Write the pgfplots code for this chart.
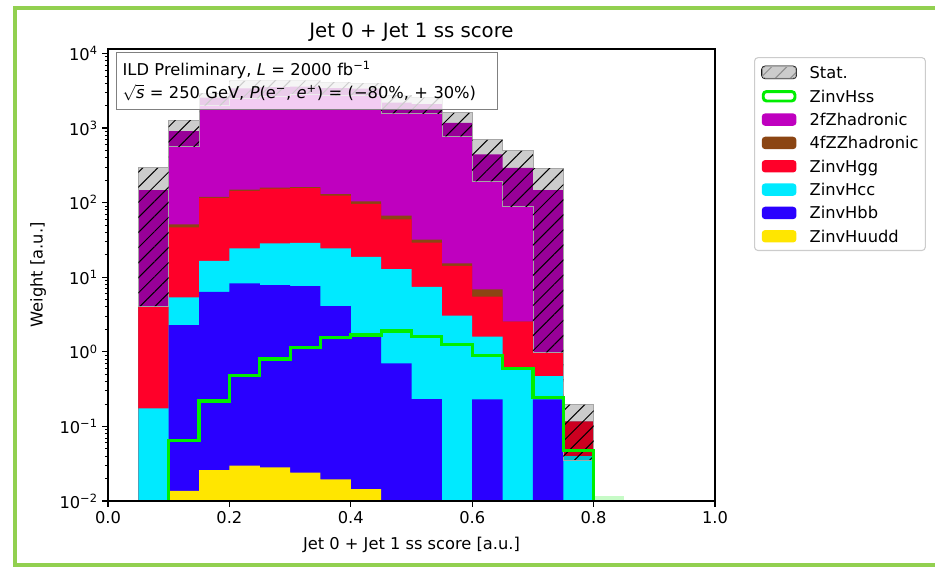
\documentclass[border=0pt]{standalone}
\usepackage{fontspec}
\setmainfont{DejaVu Sans}
\usepackage{pgfplots}
\usepackage{pgfplotstable}
\pgfplotsset{compat=1.18}
\usepgfplotslibrary{fillbetween}
\usetikzlibrary{patterns.meta}

\definecolor{cZf}{HTML}{BF00BF}
\definecolor{cZZ}{HTML}{8B4513}
\definecolor{cHgg}{HTML}{FF0029}
\definecolor{cHcc}{HTML}{00EAFF}
\definecolor{cHbb}{HTML}{2A00FF}
\definecolor{cHuudd}{HTML}{FFE600}
\definecolor{cHss}{HTML}{00EE00}
\definecolor{cFrame}{HTML}{92D050}

\newcommand\lbl{\fontsize{12.2}{14.6}\selectfont}
\newcommand\ttl{\fontsize{14.8}{17.8}\selectfont}

% per-bin weights (left bin edge, one column per sample)
\pgfplotstableread{
x     uudd    bb      cc      gg      zz      zf      hss
0.05  0       0       0.175   3.94    0       143.4   0
0.10  0.0137  2.273   3.091   41.28   4.53    860.4   0.0643
0.15  0.0260  6.366   10.25   99.66   3.70    2443    0.219
0.20  0.0297  8.253   16.12   120.0   5.40    3255    0.478
0.25  0.0283  7.833   20.61   126.0   4.90    3386    0.801
0.30  0.0240  7.597   21.39   127.9   5.00    3438    1.135
0.35  0.0195  4.090   20.29   100.1   5.90    3307    1.545
0.40  0.0144  1.580   17.24   77.84   7.40    3280    1.680
0.45  0       0.701   12.18   46.84   7.43    2130    1.900
0.50  0       0.233   7.225   21.72   2.84    2065    1.614
0.55  0       0       3.066   11.19   1.10    1163    1.245
0.60  0       0.231   1.363   3.917   1.393   437.2   0.886
0.65  0       0       0.601   1.931   0       291.2   0.601
0.70  0       0.231   0.243   0.511   0       146.5   0.2455
0.75  0       0       0.040   0.0756  0       0       0.0472
0.80  0       0       0       0       0       0       0
0.85  0       0       0       0       0       0       0
}\hist

% statistical band of the total (lower / upper edge)
\pgfplotstableread{
x     lo      hi
0.05  4.11    293.7
0.10  561     1280
0.15  2000    2945
0.20  2505    4305
0.25  2691    4399
0.30  2868    4332
0.35  2737    4137
0.40  2757    4011
0.45  1574    2770
0.50  1555    2579
0.55  774     1604
0.60  193     697
0.65  88.1    496.3
0.70  0.985   290.9
0.75  0.0355  0.1966
0.80  0.0355  0.1966
}\stat

\pgfplotsset{
  box legend/.style={legend image code/.code={\fill[##1, draw=none] (0pt,-4.65pt) rectangle (26pt,4.65pt);}},
}

\begin{document}
\begin{tikzpicture}[x=0.75pt,y=0.75pt]
\draw[cFrame, line width=3pt] (935,559) -- (15,559) -- (15,2) -- (935,2);

\begin{axis}[
  at={(81pt,49.5pt)}, anchor=south west,
  width=455.25pt, height=339pt, scale only axis,
  ymode=log, log origin=infty,
  xmin=0, xmax=1, ymin=0.01, ymax=1.15e4,
  axis on top,
  fill between/on layer=main,
  axis line style={line width=0.95pt, black},
  tick align=outside, tick pos=left,
  major tick length=4.2pt, minor tick length=2.4pt,
  major tick style={line width=0.95pt, black},
  minor tick style={line width=0.7pt, black},
  xtick={0,0.2,0.4,0.6,0.8,1},
  xticklabels={0.0,0.2,0.4,0.6,0.8,1.0},
  ytick={1e-2,1e-1,1,10,100,1000,10000},
  yticklabels={10\textsuperscript{−2},10\textsuperscript{−1},10\textsuperscript{0},10\textsuperscript{1},10\textsuperscript{2},10\textsuperscript{3},10\textsuperscript{4}},
  minor ytick={0.02,0.03,0.04,0.05,0.06,0.07,0.08,0.09,
    0.2,0.3,0.4,0.5,0.6,0.7,0.8,0.9,2,3,4,5,6,7,8,9,
    20,30,40,50,60,70,80,90,200,300,400,500,600,700,800,900,
    2000,3000,4000,5000,6000,7000,8000,9000},
  tick label style={font=\lbl},
  xlabel={Jet 0 + Jet 1 ss score [a.u.]},
  ylabel={Weight [a.u.]},
  every axis x label/.style={at={(axis description cs:0.5,-0.0973)}, anchor=center, font=\lbl},
  every axis y label/.style={at={(axis description cs:-0.1153,0.5)}, anchor=center, rotate=90, font=\lbl},
  title={Jet 0 + Jet 1 ss score},
  every axis title/.style={at={(axis description cs:0.5,1.0376)}, anchor=center, font=\ttl},
  legend style={at={(1.0643,0.982)}, anchor=north west,
    draw=black!20, line width=0.8pt, rounded corners=2.5pt, fill=white,
    inner xsep=5pt, inner ysep=6pt, font=\lbl, row sep=8.2pt,
    nodes={inner sep=0pt, text height=9pt, text depth=0.1pt},
    /tikz/every odd column/.append style={column sep=9.5pt}},
  legend cell align=left,
]

% stacked samples, drawn from the top of the stack downwards
\addplot[ybar interval, fill=cZf, draw=none, forget plot] table[x=x,
  y expr={max(\thisrow{uudd}+\thisrow{bb}+\thisrow{cc}+\thisrow{gg}+\thisrow{zz}+\thisrow{zf},1e-5)}] {\hist};
\addplot[ybar interval, fill=cZZ, draw=none, forget plot] table[x=x,
  y expr={max(\thisrow{uudd}+\thisrow{bb}+\thisrow{cc}+\thisrow{gg}+\thisrow{zz},1e-5)}] {\hist};
\addplot[ybar interval, fill=cHgg, draw=none, forget plot] table[x=x,
  y expr={max(\thisrow{uudd}+\thisrow{bb}+\thisrow{cc}+\thisrow{gg},1e-5)}] {\hist};
\addplot[ybar interval, fill=cHcc, draw=none, forget plot] table[x=x,
  y expr={max(\thisrow{uudd}+\thisrow{bb}+\thisrow{cc},1e-5)}] {\hist};
\addplot[ybar interval, fill=cHbb, draw=none, forget plot] table[x=x,
  y expr={max(\thisrow{uudd}+\thisrow{bb},1e-5)}] {\hist};
\addplot[ybar interval, fill=cHuudd, draw=none, forget plot] table[x=x,
  y expr={max(\thisrow{uudd},1e-5)}] {\hist};

\addplot[ybar interval, fill=cHss!22, draw=none, forget plot] coordinates {(0.80,0.0118) (0.85,0.0118)};

% statistical uncertainty band
\addplot[draw=none, const plot, name path=shi, forget plot] table[x=x,y=hi] {\stat};
\addplot[draw=none, const plot, name path=slo, forget plot] table[x=x,y=lo] {\stat};
\addplot[fill=black, fill opacity=0.2, draw=black!35, line width=0.5pt, forget plot] fill between[of=shi and slo];
\addplot[pattern={Lines[angle=45,distance=8pt,line width=0.75pt]}, pattern color=black, fill opacity=0.28, draw=none, forget plot] fill between[of=shi and slo];

% signal as an outline
\addplot[cHss, line width=2.4pt, line join=miter, const plot, forget plot] table[x=x, y expr={max(\thisrow{hss},1e-5)}] {\hist};

\addlegendimage{legend image code/.code={
  \fill[black!20] (0pt,-4.65pt) rectangle (26pt,4.65pt);
  \fill[pattern={Lines[angle=45,distance=8pt,line width=0.75pt]}, pattern color=black!45] (0pt,-4.65pt) rectangle (26pt,4.65pt);
  \draw[black!35, line width=0.5pt] (0.25pt,-4.4pt) rectangle (25.75pt,4.4pt);}}
\addlegendentry{Stat.}
\addlegendimage{legend image code/.code={
  \draw[cHss, line width=2.2pt, fill=white] (1.1pt,-3.55pt) rectangle (24.9pt,3.55pt);}}
\addlegendentry{ZinvHss}
\addlegendimage{box legend, fill=cZf}
\addlegendentry{2fZhadronic}
\addlegendimage{box legend, fill=cZZ}
\addlegendentry{4fZZhadronic}
\addlegendimage{box legend, fill=cHgg}
\addlegendentry{ZinvHgg}
\addlegendimage{box legend, fill=cHcc}
\addlegendentry{ZinvHcc}
\addlegendimage{box legend, fill=cHbb}
\addlegendentry{ZinvHbb}
\addlegendimage{box legend, fill=cHuudd}
\addlegendentry{ZinvHuudd}
\end{axis}

\node[anchor=north west, draw=black!50, line width=1pt, fill=white, fill opacity=0.8, text opacity=1,
  minimum height=42.75pt, text width=276.75pt, inner xsep=4.5pt, inner ysep=0pt, align=left,
  font=\fontsize{12.2}{17.25}\selectfont] at (116,515)
  {ILD Preliminary, \textit{L} = 2000 fb\textsuperscript{−1}\\
   $\sqrt{\mbox{\textit{s}}}$ = 250 GeV, \textit{P}(e\textsuperscript{−}, \textit{e}\textsuperscript{+}) = (−80\%, + 30\%)};

\pgfresetboundingbox
\useasboundingbox (0,0) rectangle (935,567);
\end{tikzpicture}
\end{document}
